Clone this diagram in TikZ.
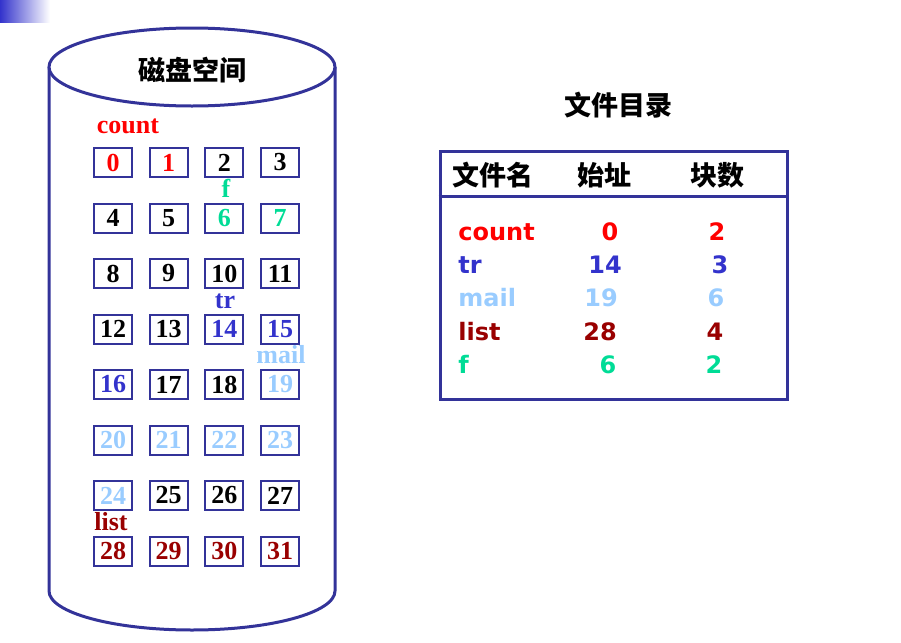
\documentclass[tikz,border=0pt]{standalone}
\usepackage{fontspec}
\setmainfont{Liberation Serif}
\newfontfamily\cjk{Noto Sans CJK SC}
\newfontfamily\tabfont{DejaVu Sans}
\usepackage{tikz}
\usetikzlibrary{positioning}
\definecolor{diskblue}{RGB}{51,51,153}
\definecolor{fred}{RGB}{255,0,0}
\definecolor{fblue}{RGB}{51,51,204}
\definecolor{flight}{RGB}{153,204,255}
\definecolor{fdark}{RGB}{153,0,0}
\definecolor{fgreen}{RGB}{0,220,150}

\begin{document}
\begin{tikzpicture}[x=0.5pt, y=-0.5pt,
		blk/.style={rectangle, draw=diskblue, line width=1pt, minimum width=19pt,
				minimum height=14.5pt, inner sep=0pt,
				font=\bfseries\fontsize{13}{13}\selectfont},
		lbl/.style={anchor=base, inner sep=0pt, font=\bfseries\fontsize{13}{13}\selectfont},
		cjktitle/.style={inner sep=0pt, font=\cjk\bfseries\fontsize{13.5}{13.5}\selectfont},
		entry/.style={anchor=base, inner sep=0pt, font=\tabfont\bfseries\fontsize{12}{12}\selectfont},
		rim/.style={draw=diskblue, line width=1.5pt},
		]
		\useasboundingbox (0,0) rectangle (901,643);

		% Corner bar
		\shade[left color=fblue, right color=white] (0,0) rectangle (50,22);

		% Disk cylinder
		\draw[rim] (49,67) -- (49,591) arc[start angle=180, end angle=360, x radius=71.5pt, y radius=19.5pt] -- (335,67);
		\draw[rim, fill=white] (192,67) ellipse [x radius=71.5pt, y radius=19.5pt];
		\node[cjktitle] (disk) at (192,70.5) {磁盘空间};

		% Blocks
		\foreach \n/\c in {0/fred,1/fred,2/black,3/black,4/black,5/black,6/fgreen,7/fgreen,
				8/black,9/black,10/black,11/black,12/black,13/black,14/fblue,15/fblue,
				16/fblue,17/black,18/black,19/flight,20/flight,21/flight,22/flight,23/flight,
				24/flight,25/black,26/black,27/black,28/fdark,29/fdark,30/fdark,31/fdark} {
			\pgfmathtruncatemacro\col{mod(\n,4)}
			\pgfmathtruncatemacro\row{\n/4}
			\node[blk, text=\c] (b\n) at (113+55.7*\col, 162.5+55.5*\row) {\n};
		}

		% File labels on the disk
		\node[lbl, text=fred] (lcount) at (128,133) {count};
		\node[lbl, text=fgreen] (lf) at (226,197) {f};
		\node[lbl, text=fblue] (ltr) at (225,308) {tr};
		\node[lbl, text=flight] (lmail) at (281,363) {mail};
		\node[lbl, text=fdark] (llist) at (111,530) {list};

		% Directory
		\node[cjktitle] (dirtitle) at (618,105) {文件目录};
		\node[rim, rectangle, minimum width=173.5pt, minimum height=124pt, inner sep=0pt] (dir) at (613.5,275) {};
		\coordinate (hdr) at (613.5,196);
		\draw[rim] (dir.west |- hdr) -- (dir.east |- hdr);
		\node[cjktitle] (hname) at (493,175) {文件名};
		\node[cjktitle] (hstart) at (604,175) {始址};
		\node[cjktitle] (hlen) at (717,175) {块数};

		\foreach \nm/\st/\len/\c/\y/\xs/\xl in {count/0/2/fred/240/610/717,
				tr/14/3/fblue/273/605/720, mail/19/6/flight/306/601/716,
				list/28/4/fdark/340/600/715, f/6/2/fgreen/373/608/714} {
			\node[entry, anchor=base west, text=\c] (n-\nm) at (458,\y) {\nm};
			\node[entry, text=\c] (s-\nm) at (\xs,\y) {\st};
			\node[entry, text=\c] (l-\nm) at (\xl,\y) {\len};
		}
	\end{tikzpicture}
\end{document}
